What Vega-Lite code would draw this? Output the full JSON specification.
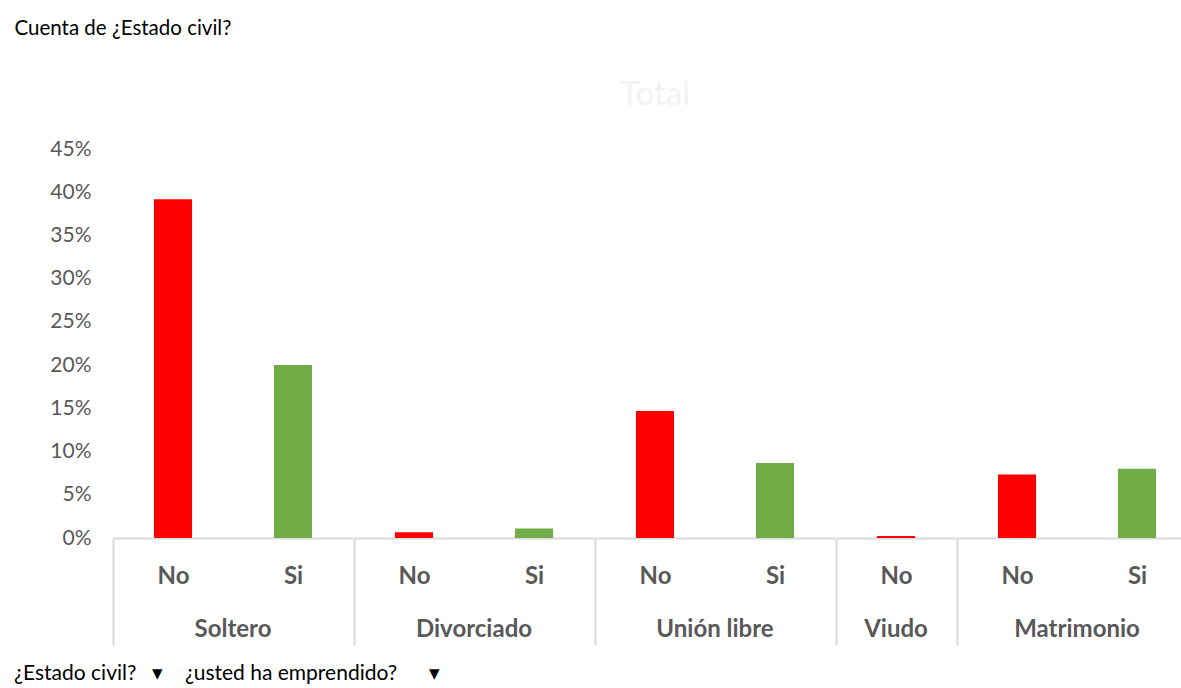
{
  "$schema": "https://vega.github.io/schema/vega-lite/v6.json",
  "padding": {"left": 14, "top": 18, "right": 0, "bottom": 0},
  "background": "white",
  "title": {"text": "¿Estado civil?\u00a0\u00a0\u00a0\u25be\u00a0\u00a0\u00a0\u00a0¿usted ha emprendido?\u00a0\u00a0\u00a0\u00a0\u00a0\u00a0\u25be", "orient": "bottom", "anchor": "start", "frame": "bounds", "font": "Lato", "fontSize": 21, "fontWeight": "normal", "color": "#000000", "offset": 17},
  "data": {"values": [
    {"estado": "Soltero", "emprendido": "No", "porcentaje": 0.392},
    {"estado": "Soltero", "emprendido": "Si", "porcentaje": 0.2},
    {"estado": "Divorciado", "emprendido": "No", "porcentaje": 0.0067},
    {"estado": "Divorciado", "emprendido": "Si", "porcentaje": 0.0111},
    {"estado": "Unión libre", "emprendido": "No", "porcentaje": 0.147},
    {"estado": "Unión libre", "emprendido": "Si", "porcentaje": 0.0869},
    {"estado": "Viudo", "emprendido": "No", "porcentaje": 0.0022},
    {"estado": "Matrimonio", "emprendido": "No", "porcentaje": 0.0735},
    {"estado": "Matrimonio", "emprendido": "Si", "porcentaje": 0.0802}
  ]},
  "facet": {"column": {"field": "estado", "type": "nominal", "sort": ["Soltero", "Divorciado", "Unión libre", "Viudo", "Matrimonio"], "title": "Total",
    "header": {"titleOrient": "top", "titleFont": "Lato", "titleFontSize": 33, "titleColor": "#f2f2f2", "titleFontWeight": "normal", "titlePadding": 27,
      "labelOrient": "bottom", "labelFont": "Lato", "labelFontSize": 24, "labelFontWeight": "bold", "labelColor": "#595959", "labelPadding": -28}}},
  "spacing": 0,
  "resolve": {"scale": {"x": "independent"}},
  "spec": {
    "width": {"step": 120},
    "height": 389,
    "mark": {"type": "bar", "width": {"band": 0.317}},
    "encoding": {
      "x": {"field": "emprendido", "type": "nominal", "sort": ["No", "Si"], "scale": {"paddingInner": 0, "paddingOuter": 0},
        "axis": {"title": null, "labelAngle": 0, "domain": true, "domainColor": "#d9d9d9", "domainWidth": 2, "ticks": true, "tickBand": "extent", "tickSize": 107, "tickColor": "#d9d9d9", "tickWidth": 2,
          "tickOpacity": {"condition": {"test": "datum.index < 0", "value": 1}, "value": 0},
          "labelPadding": -81, "labelFont": "Lato", "labelFontSize": 24, "labelFontWeight": "bold", "labelColor": "#595959"}},
      "y": {"field": "porcentaje", "type": "quantitative", "scale": {"domain": [0, 0.45], "nice": false},
        "axis": {"title": "Cuenta de ¿Estado civil?", "titleAngle": 0, "titleAlign": "left", "titleBaseline": "middle", "titleX": -98, "titleY": -121, "titleFont": "Lato", "titleFontSize": 20.5, "titleFontWeight": "normal", "titleColor": "#000000",
          "values": [0, 0.05, 0.1, 0.15, 0.2, 0.25, 0.3, 0.35, 0.4, 0.45], "format": ".0%", "grid": false, "domain": false, "ticks": false, "labelPadding": 21, "labelFont": "Lato", "labelFontSize": 21, "labelColor": "#595959"}},
      "color": {"field": "emprendido", "type": "nominal", "scale": {"domain": ["No", "Si"], "range": ["#ff0000", "#70ad47"]}, "legend": null}
    }
  },
  "config": {"view": {"stroke": null}}
}
